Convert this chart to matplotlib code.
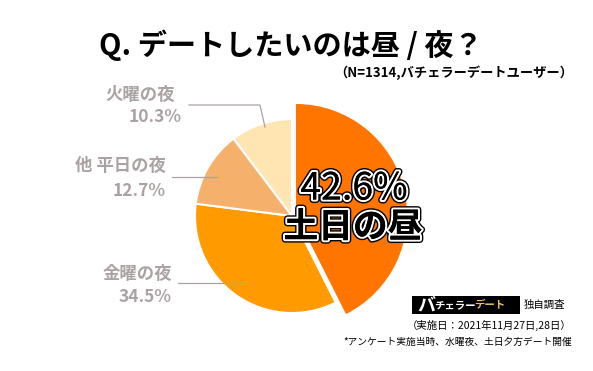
import matplotlib
matplotlib.use('Agg')
import matplotlib.pyplot as plt
import matplotlib.patheffects as pe
from matplotlib.patches import Rectangle

plt.rcParams['font.family'] = ['Noto Sans CJK JP', 'DejaVu Sans']

# data
labels = ['土日の昼', '金曜の夜', '他 平日の夜', '火曜の夜']
values = [42.6, 34.5, 12.7, 10.3]
colors = ['#FF7500', '#FF9B00', '#F5B06C', '#FFE5B2']

W, H = 593, 371
GRAY = '#ABA3A3'


def Y(y):
    # pixel row (from top) -> data y
    return H - y


fig = plt.figure(figsize=(W / 100, H / 100), dpi=100)
ax = fig.add_axes([0, 0, 1, 1])
ax.set_xlim(0, W)
ax.set_ylim(0, H)
ax.set_aspect('equal')
ax.axis('off')

cx, cy, r = 292, 216, 97
wedges, _ = ax.pie(values, colors=colors, startangle=90, counterclock=False,
                   center=(cx, Y(cy)), radius=r,
                   wedgeprops=dict(edgecolor='white', linewidth=1.5))
# main slice is bigger and pulled out a bit
wedges[0].set_radius(111)
wedges[0].set_center((296, Y(215)))
wedges[0].set_linewidth(0)
ax.set_xlim(0, W)
ax.set_ylim(0, H)

# title
ax.text(291, Y(45), 'Q. デートしたいのは昼 / 夜？', fontsize=21, fontweight='bold',
        ha='center', va='center', color='black')
ax.text(573, Y(73), '（N=1314,バチェラーデートユーザー）', fontsize=9.5,
        fontweight='bold', ha='right', va='center', color='black')

# side labels with leader lines
side = [
    (3, 175, 182, 95, 117, [(189, 105), (260, 105), (265, 127)]),
    (2, 166, 166, 166, 191, [(172, 177), (217, 177)]),
    (1, 172, 172, 274, 297, [(178, 283), (243, 283)]),
]
for i, xl, xp, y1, y2, pts in side:
    ax.text(xl, Y(y1), labels[i], fontsize=12.5, fontweight='bold',
            color=GRAY, ha='right', va='center')
    ax.text(xp, Y(y2), f'{values[i]}%', fontsize=12.5, fontweight='bold',
            color=GRAY, ha='right', va='center')
    ax.plot([p[0] for p in pts], [Y(p[1]) for p in pts], color=GRAY, lw=0.9)

# big label on main slice
fx = [pe.withStroke(linewidth=5, foreground='black'),
      pe.withStroke(linewidth=3, foreground='white'), pe.Normal()]
ax.text(354, Y(189), f'{values[0]}%', fontsize=27, color='black',
        ha='center', va='center', path_effects=fx)
ax.text(353, Y(227), labels[0], fontsize=25, fontweight='bold', color='black',
        ha='center', va='center', path_effects=fx)

# logo / footnote
ax.add_patch(Rectangle((412, Y(314)), 108, 18, facecolor='black', edgecolor='none'))
ax.text(417, Y(305), 'バ', fontsize=13, fontweight='bold', fontstyle='italic',
        color='white', ha='left', va='center')
ax.text(434, Y(305), 'チェラー', fontsize=7.5, fontweight='bold',
        color='white', ha='left', va='center')
ax.text(474, Y(305), 'デート', fontsize=7.5, fontweight='bold',
        color='#E8C25A', ha='left', va='center')
ax.text(524, Y(305), '独自調査', fontsize=7.5, color='black', ha='left', va='center')
ax.text(572, Y(325), '（実施日：2021年11月27日,28日）', fontsize=7.5,
        color='black', ha='right', va='center')
ax.text(572, Y(342), '*アンケート実施当時、水曜夜、土日夕方デート開催', fontsize=7,
        color='black', ha='right', va='center')

fig.savefig('out.png', dpi=100)
